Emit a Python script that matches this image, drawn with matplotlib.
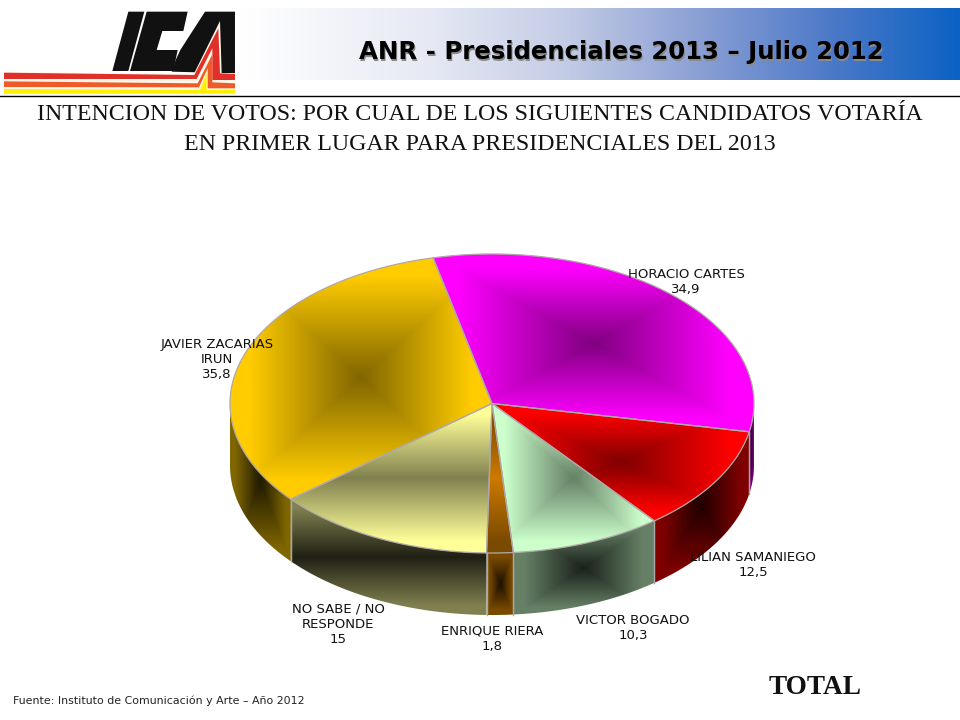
import numpy as np
import matplotlib
matplotlib.use('Agg')
import matplotlib.pyplot as plt
from matplotlib.colors import to_rgb
from matplotlib.patches import Polygon

candidatos = ['HORACIO CARTES', 'LILIAN SAMANIEGO', 'VICTOR BOGADO', 'ENRIQUE RIERA',
              'NO SABE / NO\nRESPONDE', 'JAVIER ZACARIAS\nIRUN']
valores = [34.9, 12.5, 10.3, 1.8, 15, 35.8]

# claro, escuro do topo e escuro da lateral
cor_borda = ['#ff00ff', '#ff0000', '#ccffcc', '#7a4a00', '#ffff99', '#ffcc00']
cor_centro = ['#800080', '#800000', '#668066', '#cc7a00', '#808050', '#806600']
cor_lado = ['#800080', '#800000', '#668066', '#7a4a00', '#808050', '#806600']
cor_lado_c = ['#200020', '#200000', '#1a201a', '#1a0f00', '#202014', '#201a00']
modo = ['p', 'p', 'p', 'v', 'v', 'p']
pos_rotulos = [(686, 274), (753, 557), (633, 620), (492, 631), (338, 609), (217, 344)]

# degrade do cabecalho
faixa_x = [240, 430, 561, 699, 836, 960]
faixa_cor = ['#ffffff', '#e6e9f4', '#c5cde6', '#8a9fd4', '#4a78c8', '#0a62c4']

CX, CY, RX, RY, ALTURA = 492, 403.5, 262, 149.5, 62
INICIO = -13


def ponto(ang):
    a = np.radians(ang)
    return CX + RX * np.sin(a), CY - RY * np.cos(a)


def arco(a1, a2):
    angs = np.linspace(a1, a2, 200)
    return np.column_stack(ponto(angs))


def gradiente(ax, pts, c_fora, c_meio, tipo, z):
    # pinta o degrade na caixa do poligono e recorta
    x0, y0 = pts.min(axis=0)
    x1, y1 = pts.max(axis=0)
    xs = np.linspace(-1, 1, max(int(x1 - x0), 2))
    ys = np.linspace(-1, 1, max(int(y1 - y0), 2))
    u, v = np.meshgrid(xs, ys)
    t = np.abs(v) if tipo == 'v' else np.maximum(np.abs(u), np.abs(v))
    t = np.clip(t / 0.85, 0, 1)
    fora, meio = np.array(to_rgb(c_fora)), np.array(to_rgb(c_meio))
    img = meio + (fora - meio) * t[..., None]
    im = ax.imshow(img, extent=(x0, x1, y1, y0), aspect='auto', zorder=z, interpolation='bilinear')
    patch = Polygon(pts, closed=True, transform=ax.transData, fc='none', ec='none')
    ax.add_patch(patch)
    im.set_clip_path(patch)


fig = plt.figure(figsize=(9.6, 7.2), dpi=100)
ax = fig.add_axes([0, 0, 1, 1])

# faixa do cabecalho
xs = np.arange(960)
rgb = np.array([to_rgb(c) for c in faixa_cor])
topo = np.column_stack([np.interp(xs, faixa_x, rgb[:, k]) for k in range(3)])
ax.imshow(topo[None, :, :], extent=(0, 960, 80, 8), aspect='auto', zorder=1)
ax.plot([0, 960], [96, 96], color='black', lw=1, zorder=2)


# logo ICA, coordenadas do recorte ampliado 3x
def logo(pts, cor, z=3):
    p = np.array(pts) / 3 + [105, 5]
    ax.add_patch(Polygon(p, closed=True, fc=cor, ec='none', zorder=z))


logo([(70, 20), (118, 20), (70, 198), (22, 198)], '#111111')
logo([(125, 20), (248, 20), (235, 78), (172, 78), (155, 135), (218, 135), (205, 198), (75, 198)], '#111111')
logo([(300, 20), (390, 20), (390, 205), (200, 200), (212, 165), (226, 135)], '#111111')
logo([(266, 208), (345, 48), (350, 205), (390, 205), (390, 268), (-303, 268), (-303, 200)], '#fff8e8', 4)
logo([(-303, 203), (268, 210), (340, 70), (345, 205), (390, 207), (390, 225), (322, 225), (322, 130), (275, 222), (-303, 222)], '#e0302a', 5)
logo([(-303, 229), (278, 235), (322, 148), (322, 232), (390, 235), (390, 250), (308, 250), (308, 190), (282, 247), (-303, 246)], '#ee5a28', 5)
logo([(-303, 252), (285, 255), (305, 205), (305, 255), (390, 255), (390, 266), (-303, 266)], '#fff000', 5)

titulo = 'ANR - Presidenciales 2013 – Julio 2012'
ax.text(622.5, 53.5, titulo, fontsize=17.6, fontweight='bold', family='DejaVu Sans', color='#8a8a8a',
        ha='center', va='center', zorder=6)
ax.text(621, 52, titulo, fontsize=17.6, fontweight='bold', family='DejaVu Sans', color='#000000',
        ha='center', va='center', zorder=7)
ax.text(480, 115, 'INTENCION DE VOTOS: POR CUAL DE LOS SIGUIENTES CANDIDATOS VOTARÍA',
        fontsize=17.2, family='Liberation Serif', ha='center', va='center', color='#111111', zorder=5)
ax.text(480, 144, 'EN PRIMER LUGAR PARA PRESIDENCIALES DEL 2013',
        fontsize=17.2, family='Liberation Serif', ha='center', va='center', color='#111111', zorder=5)

# fatias
total = sum(valores)
cortes = INICIO + np.cumsum([0] + valores) / total * 360

for i in range(len(valores)):
    a1, a2 = cortes[i], cortes[i + 1]
    # parede visivel so na metade de baixo
    p1, p2 = max(a1, 90), min(a2, 270)
    if p2 > p1:
        borda = arco(p1, p2)
        parede = np.vstack([borda, (borda + [0, ALTURA])[::-1]])
        gradiente(ax, parede, cor_lado[i], cor_lado_c[i], modo[i] if i == 4 else 'p', 10)
        for a in (p1, p2):
            if a in (a1, a2):
                x, y = ponto(a)
                ax.plot([x, x], [y, y + ALTURA], color='#a8a8a8', lw=0.9, zorder=11)

for i in range(len(valores)):
    a1, a2 = cortes[i], cortes[i + 1]
    fatia = np.vstack([[CX, CY], arco(a1, a2)])
    gradiente(ax, fatia, cor_borda[i], cor_centro[i], modo[i], 12)
    ax.add_patch(Polygon(fatia, closed=True, fc='none', ec='#b0a8a8', lw=0.9, zorder=13))

for nome, v, (x, y) in zip(candidatos, valores, pos_rotulos):
    txt = nome + '\n' + f'{v:g}'.replace('.', ',')
    ax.text(x, y - 6, txt, fontsize=9.5, family='DejaVu Sans', ha='center', va='top',
            linespacing=1.22, color='#111111', zorder=20)

ax.text(13, 701, 'Fuente: Instituto de Comunicación y Arte – Año 2012', fontsize=7.9,
        family='DejaVu Sans', ha='left', va='center', color='#222222', zorder=5)
ax.text(815, 688, 'TOTAL', fontsize=19.6, fontweight='bold', family='Liberation Serif',
        ha='center', va='center', color='#111111', zorder=5)

ax.set_xlim(0, 960)
ax.set_ylim(720, 0)
ax.axis('off')
fig.savefig('out.png', dpi=100, facecolor='white')
